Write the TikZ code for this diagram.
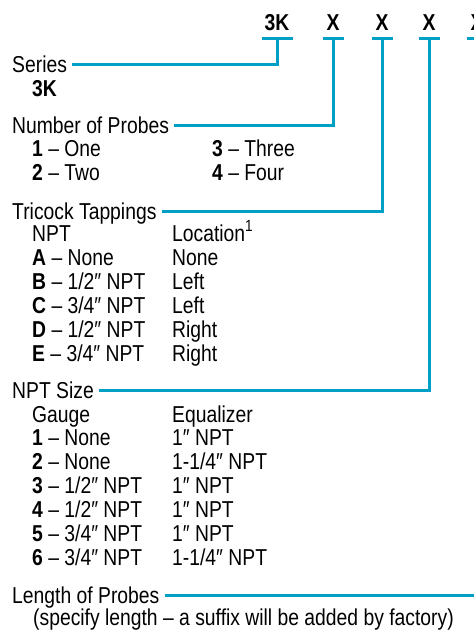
\documentclass[tikz,border=0pt]{standalone}
\usepackage{fontspec}
\setmainfont{Liberation Sans}[FakeStretch=0.84]
\usetikzlibrary{positioning}
\definecolor{leadcolor}{RGB}{0,160,198}

\begin{document}
\begin{tikzpicture}[
    x=1pt, y=-1pt,
    every node/.style={inner sep=0pt, font=\fontsize{23}{24}\selectfont},
    fieldname/.style={anchor=base west, text height=16pt, text depth=0pt},
    entry/.style={anchor=base west},
    code/.style={anchor=base, font=\fontsize{23}{24}\selectfont\bfseries},
    lead/.style={draw=leadcolor, line width=3pt},
    bar/.style={draw=leadcolor, line width=3pt}
]
\useasboundingbox (0,0) rectangle (474,630);
\clip (0,0) rectangle (474,630);

% Model code
\node[code] (c3k) at (277,30) {3K};
\node[code] (cx1) at (333,30) {X};
\node[code] (cx2) at (382,30) {X};
\node[code] (cx3) at (429,30) {X};
\node[code] (cx4) at (477,30) {X};

% Bars under the code
\coordinate (b3k) at (277,38);
\coordinate (bx1) at (333,38);
\coordinate (bx2) at (382,38);
\coordinate (bx3) at (429,38);
\coordinate (bx4) at (477,38);
\draw[bar] ([xshift=-15.5pt]b3k) -- ([xshift=15.5pt]b3k);
\draw[bar] ([xshift=-10.5pt]bx1) -- ([xshift=10.5pt]bx1);
\draw[bar] ([xshift=-10.5pt]bx2) -- ([xshift=10.5pt]bx2);
\draw[bar] ([xshift=-10.5pt]bx3) -- ([xshift=10.5pt]bx3);
\draw[bar] ([xshift=-10.5pt]bx4) -- ([xshift=10.5pt]bx4);

% Series
\node[fieldname] (series) at (12,72) {Series};
\node[entry] (s3k) at (32,96) {\textbf{3K}};

% Number of Probes
\node[fieldname] (probes) at (12,133) {Number of Probes};
\node[entry] (p1) at (32,156) {\textbf{1} – One};
\node[entry] (p2) at (32,180) {\textbf{2} – Two};
\node[entry] (p3) at (212,156) {\textbf{3} – Three};
\node[entry] (p4) at (212,180) {\textbf{4} – Four};

% Tricock Tappings
\node[fieldname] (tricock) at (12,219) {Tricock Tappings};
\node[entry] (tnpt) at (32,241) {NPT};
\node[entry] (tloc) at (172,241) {Location\textsuperscript{1}};
\node[entry] (ta) at (32,265) {\textbf{A} – None};
\node[entry] (tb) at (32,289) {\textbf{B} – 1/2″ NPT};
\node[entry] (tc) at (32,313) {\textbf{C} – 3/4″ NPT};
\node[entry] (td) at (32,337) {\textbf{D} – 1/2″ NPT};
\node[entry] (te) at (32,361) {\textbf{E} – 3/4″ NPT};
\node[entry] (la) at (172,265) {None};
\node[entry] (lb) at (172,289) {Left};
\node[entry] (lc) at (172,313) {Left};
\node[entry] (ld) at (172,337) {Right};
\node[entry] (le) at (172,361) {Right};

% NPT Size
\node[fieldname] (nptsize) at (12,398) {NPT Size};
\node[entry] (gauge) at (32,422) {Gauge};
\node[entry] (equal) at (172,422) {Equalizer};
\node[entry] (g1) at (32,445) {\textbf{1} – None};
\node[entry] (g2) at (32,469) {\textbf{2} – None};
\node[entry] (g3) at (32,493) {\textbf{3} – 1/2″ NPT};
\node[entry] (g4) at (32,517) {\textbf{4} – 1/2″ NPT};
\node[entry] (g5) at (32,541) {\textbf{5} – 3/4″ NPT};
\node[entry] (g6) at (32,565) {\textbf{6} – 3/4″ NPT};
\node[entry] (e1) at (172,445) {1″ NPT};
\node[entry] (e2) at (172,469) {1-1/4″ NPT};
\node[entry] (e3) at (172,493) {1″ NPT};
\node[entry] (e4) at (172,517) {1″ NPT};
\node[entry] (e5) at (172,541) {1″ NPT};
\node[entry] (e6) at (172,565) {1-1/4″ NPT};

% Length of Probes
\node[fieldname] (length) at (12,603) {Length of Probes};
\node[entry] (spec) at (33,625) {(specify length – a suffix will be added by factory)};

% Leaders
\draw[lead] ([xshift=5pt]series.east) -| (b3k);
\draw[lead] ([xshift=5pt]probes.east) -| (bx1);
\draw[lead] ([xshift=5pt]tricock.east) -| (bx2);
\draw[lead] ([xshift=5pt]nptsize.east) -| (bx3);
\draw[lead] ([xshift=5pt]length.east) -| (bx4);

\end{tikzpicture}
\end{document}
